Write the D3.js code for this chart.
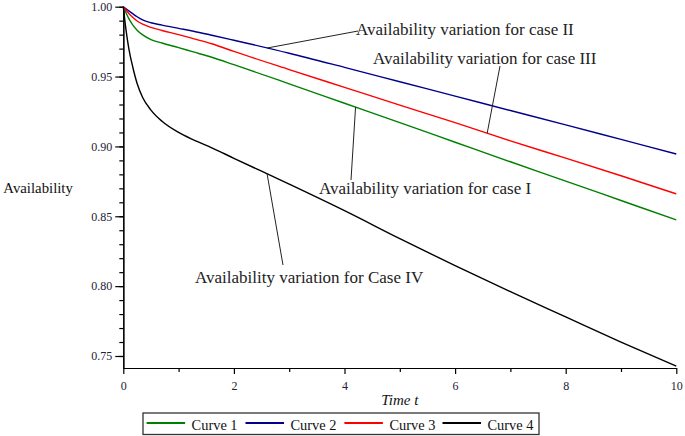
<!DOCTYPE html>
<html>
<head>
<meta charset="utf-8">
<script src="https://cdn.jsdelivr.net/npm/d3@7"></script>
<style>
  body { margin: 0; background: #fff; }
</style>
</head>
<body>
<div id="chart"></div>
<script>
var serif = '"Liberation Serif", serif'

// time points (shared by all curves)
var times = [0, 0.05, 0.1, 0.17, 0.25, 0.35, 0.5, 0.7, 1, 1.25, 1.6, 2, 3, 4, 5, 6, 7, 8, 9, 10]

// availability
var curve1 = [1.000, 0.9955, 0.9915, 0.987, 0.9832, 0.9798, 0.9765, 0.974, 0.9707, 0.9678, 0.9638, 0.9585, 0.9448, 0.9309, 0.917, 0.903, 0.889, 0.8752, 0.8613, 0.8474]
var curve2 = [1.000, 0.9985, 0.997, 0.995, 0.9928, 0.9905, 0.9885, 0.9868, 0.9845, 0.9826, 0.9796, 0.976, 0.9667, 0.9566, 0.9463, 0.936, 0.9257, 0.9154, 0.905, 0.8946]
var curve3 = [1.000, 0.9975, 0.9952, 0.9925, 0.9898, 0.9875, 0.9852, 0.983, 0.980, 0.9773, 0.9735, 0.968, 0.955, 0.9423, 0.9296, 0.917, 0.904, 0.8916, 0.879, 0.866]
var curve4 = [1.000, 0.983, 0.970, 0.957, 0.945, 0.935, 0.926, 0.918, 0.910, 0.905, 0.899, 0.8915, 0.873, 0.854, 0.834, 0.8146, 0.796, 0.778, 0.760, 0.7428]

var curveNames = ['Curve 1', 'Curve 2', 'Curve 3', 'Curve 4']
var curveColors = ['#008000', '#00008b', '#ff0000', '#000000']

var yMajor = [0.75, 0.80, 0.85, 0.90, 0.95, 1.00]
var xMajor = [0, 2, 4, 6, 8, 10]

// annotation text + which curve / time the leader line points at
var notes = [
  {text: 'Availability variation for case II',  curve: 1, t: 2.6,  tx: 356, ty: 34.5, lx: 358, ly: 31},
  {text: 'Availability variation for case III', curve: 2, t: 6.58, tx: 373, ty: 63.5, lx: 500, ly: 66},
  {text: 'Availability variation for case I',   curve: 0, t: 4.2,  tx: 319, ty: 193.5, lx: 351, ly: 180},
  {text: 'Availability variation for Case IV',  curve: 3, t: 2.6,  tx: 195, ty: 283, lx: 283, ly: 265}
]

var W = 685, H = 436
var series = [curve1, curve2, curve3, curve4]

var x = d3.scaleLinear().domain([0, 10]).range([123.3, 676.3])
var y = d3.scaleLinear().domain([0.7414, 1]).range([368, 6.7])

var svg = d3.select('#chart').append('svg')
  .attr('width', W)
  .attr('height', H)
  .style('display', 'block')
  .style('font-family', serif)

// y axis: minor then major
svg.append('g')
  .attr('transform', 'translate(' + x(0) + ',0)')
  .call(d3.axisLeft(y).tickValues(d3.range(75, 101).map(d => d / 100)).tickSize(4).tickFormat('').tickSizeOuter(0))
svg.append('g')
  .attr('transform', 'translate(' + x(0) + ',0)')
  .call(d3.axisLeft(y).tickValues(yMajor).tickSize(8).tickSizeOuter(0).tickFormat(d3.format('.2f')))

// x axis
svg.append('g')
  .attr('transform', 'translate(0,' + y.range()[0] + ')')
  .call(d3.axisBottom(x).tickValues([1, 3, 5, 7, 9]).tickSize(4).tickFormat('').tickSizeOuter(0))
svg.append('g')
  .attr('transform', 'translate(0,' + y.range()[0] + ')')
  .call(d3.axisBottom(x).tickValues(xMajor).tickSize(6).tickPadding(7).tickSizeOuter(0))

svg.selectAll('.domain, .tick line').attr('stroke', '#000').attr('stroke-width', 1.2)
svg.selectAll('.tick text').style('font-family', serif).attr('font-size', 12).attr('fill', '#1c2236')

// axis titles
svg.append('text')
  .attr('x', 3.3).attr('y', 192.5)
  .style('font-family', serif)
  .attr('font-size', 14.8).attr('fill', '#111')
  .text('Availability')

svg.append('text')
  .attr('x', (x(0) + x(10)) / 2).attr('y', 405)
  .attr('text-anchor', 'middle')
  .style('font-family', serif)
  .attr('font-size', 15).attr('font-style', 'italic').attr('fill', '#111')
  .text('Time t')

// curves
var line = d3.line()
  .x((d, i) => x(times[i]))
  .y(d => y(d))
  .curve(d3.curveMonotoneX)

svg.append('g').selectAll('path')
  .data(series)
  .enter().append('path')
    .attr('d', line)
    .attr('fill', 'none')
    .attr('stroke', (d, i) => curveColors[i])
    .attr('stroke-width', 1.4)

// value on a curve at time t (linear between read points)
function valueAt(vals, t) {
  var i = d3.bisectRight(times, t) - 1
  if (i >= times.length - 1) return vals[vals.length - 1]
  var f = (t - times[i]) / (times[i + 1] - times[i])
  return vals[i] + f * (vals[i + 1] - vals[i])
}

var ann = svg.append('g')
notes.forEach(n => {
  ann.append('line')
    .attr('x1', n.lx).attr('y1', n.ly)
    .attr('x2', x(n.t)).attr('y2', y(valueAt(series[n.curve], n.t)))
    .attr('stroke', '#222').attr('stroke-width', 1)
  ann.append('text')
    .attr('x', n.tx).attr('y', n.ty)
    .style('font-family', serif)
    .attr('font-size', 17).attr('fill', '#222')
    .text(n.text)
})

// legend
var lg = svg.append('g')
lg.append('rect')
  .attr('x', 143).attr('y', 413)
  .attr('width', 396).attr('height', 21.5)
  .attr('fill', '#fff').attr('stroke', '#333').attr('stroke-width', 1.3)

var legendX = [146.6, 245.5, 344.4, 442.5]
curveNames.forEach((name, i) => {
  lg.append('line')
    .attr('x1', legendX[i]).attr('x2', legendX[i] + 38.5)
    .attr('y1', 423).attr('y2', 423)
    .attr('stroke', curveColors[i]).attr('stroke-width', 2)
  lg.append('text')
    .attr('x', legendX[i] + 45).attr('y', 429.5)
    .style('font-family', serif)
    .attr('font-size', 14.4).attr('fill', '#111')
    .text(name)
})
</script>
</body>
</html>
